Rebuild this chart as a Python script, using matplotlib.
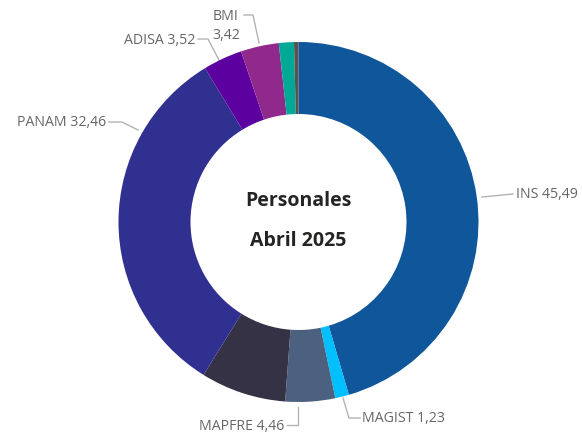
import numpy as np
import matplotlib
matplotlib.use("Agg")
import matplotlib.pyplot as plt

# Slices clockwise from 12 o'clock
names = ["INS", "MAGIST", "MAPFRE", "Otro 1", "PANAM", "ADISA", "BMI", "Otro 2", "Otro 3"]
values = [45.49, 1.23, 4.46, 7.67, 32.46, 3.52, 3.42, 1.35, 0.40]
colors = ["#10569a", "#00bfff", "#4c6080", "#363246", "#303091",
          "#5c00a0", "#91288c", "#00a896", "#555555"]
labeled = ["INS", "MAGIST", "MAPFRE", "PANAM", "ADISA", "BMI"]
center_title = ["Personales", "Abril 2025"]

W, H = 582, 437
fig = plt.figure(figsize=(W / 100, H / 100), dpi=100)
ax = fig.add_axes([0, 0, 1, 1])
ax.set_xlim(0, W)
ax.set_ylim(H, 0)
ax.axis("off")

# pie in y-up coordinates, so draw on a second axes with normal y
ax2 = fig.add_axes([0, 0, 1, 1])
cx, cy, r = 298.5, H - 222, 180
ax2.pie(values, colors=colors, startangle=90, counterclock=False,
        center=(cx, cy), radius=r, frame=True,
        wedgeprops=dict(width=r * 0.4, linewidth=0))
ax2.set_xlim(0, W)
ax2.set_ylim(0, H)
ax2.axis("off")

fmt = lambda v: f"{v:.2f}".replace(".", ",")
val = dict(zip(names, values))

# leader lines (image pixel coords) and text placement
leaders = {
    "INS": ([(482, 197), (513, 194)], (516, 195), "left"),
    "MAGIST": ([(343, 398), (349, 418), (360, 418)], (362, 419), "left"),
    "MAPFRE": ([(298, 407), (298, 425), (287, 425)], (284, 426), "right"),
    "PANAM": ([(138, 130), (122, 122), (109, 122)], (106, 123), "right"),
    "ADISA": ([(220, 62), (208, 39), (198, 39)], (195, 40), "right"),
    "BMI": ([(259, 43), (253, 15), (244, 15)], (226, 26), "center"),
}
tc = "#666666"
for n in labeled:
    pts, (tx, ty), ha = leaders[n]
    xs, ys = zip(*pts)
    ax.plot(xs, ys, color="#b3b3b3", lw=1)
    txt = f"{n} {fmt(val[n])}" if n != "BMI" else f"{n}\n{fmt(val[n])}"
    ax.text(tx, ty, txt, ha=ha, va="center", fontsize=10.2, color=tc,
            family="Open Sans", linespacing=1.35)

ax.text(cx, 201, center_title[0], ha="center", va="center", fontsize=14,
        fontweight="bold", color="#252423", family="Open Sans")
ax.text(cx, 241, center_title[1], ha="center", va="center", fontsize=14,
        fontweight="bold", color="#252423", family="Open Sans")

fig.savefig("out.png", dpi=100, facecolor="white")
